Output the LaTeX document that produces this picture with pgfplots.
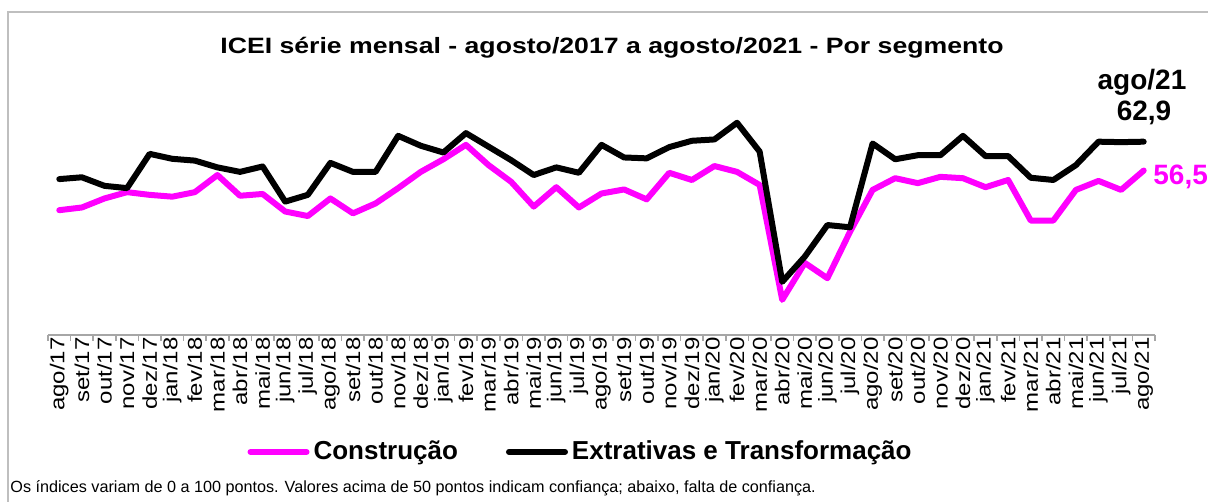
\documentclass[border=0pt]{standalone}
\usepackage{pgfplots}
\pgfplotsset{compat=1.18}
\usepackage{pgfplotstable}
\usepackage{fontspec}
\setmainfont{Liberation Sans}
\newfontfamily\widefont[FakeStretch=1.2]{Liberation Sans}
\definecolor{pinkline}{RGB}{255,0,255}
\definecolor{axgray}{RGB}{166,166,166}
\definecolor{bordergray}{RGB}{191,191,191}

\pgfplotstableread{
x con ext
0 47.7 54.6
1 48.3 55.0
2 50.3 53.1
3 51.7 52.6
4 51.1 60.2
5 50.7 59.1
6 51.7 58.7
7 55.5 57.2
8 50.9 56.2
9 51.3 57.4
10 47.4 49.6
11 46.4 51.1
12 50.3 58.2
13 47.0 56.2
14 49.2 56.2
15 52.6 64.2
16 56.2 62.0
17 59.0 60.5
18 62.2 64.8
19 57.7 61.8
20 54.0 58.8
21 48.5 55.5
22 52.8 57.2
23 48.3 56.0
24 51.4 62.2
25 52.3 59.4
26 50.1 59.2
27 56.0 61.7
28 54.4 63.1
29 57.5 63.4
30 56.2 67.1
31 53.3 60.7
32 27.8 31.8
33 36.0 37.4
34 32.6 44.4
35 42.9 43.9
36 52.2 62.5
37 54.8 59.0
38 53.7 59.9
39 55.1 59.9
40 54.8 64.2
41 52.8 59.7
42 54.4 59.7
43 45.4 54.9
44 45.4 54.4
45 52.2 57.7
46 54.2 62.9
47 52.2 62.8
48 56.5 62.9
}\datatable

\begin{document}
\begin{tikzpicture}[x=1pt,y=1pt]
\useasboundingbox (0,0) rectangle (604,251);
\draw[bordergray, line width=0.6pt] (4,-5) rectangle (612,245);
\node[font=\widefont\bfseries\fontsize{11.1}{13}\selectfont] at (306,227) {ICEI série mensal - agosto/2017 a agosto/2021 - Por segmento};
\begin{axis}[
  at={(24pt,83.5pt)}, anchor=south west, scale only axis,
  width=553.5pt, height=112.65pt,
  xmin=-0.5, xmax=48.5, ymin=20, ymax=70,
  axis x line*=bottom, axis y line=none,
  ytick=\empty,
  xtick={0,...,48},
  xticklabels={ago/17,set/17,out/17,nov/17,dez/17,jan/18,fev/18,mar/18,abr/18,mai/18,jun/18,jul/18,ago/18,set/18,out/18,nov/18,dez/18,jan/19,fev/19,mar/19,abr/19,mai/19,jun/19,jul/19,ago/19,set/19,out/19,nov/19,dez/19,jan/20,fev/20,mar/20,abr/20,mai/20,jun/20,jul/20,ago/20,set/20,out/20,nov/20,dez/20,jan/21,fev/21,mar/21,abr/21,mai/21,jun/21,jul/21,ago/21},
  major tick length=0pt,
  minor xtick={-0.5,0.5,...,48.5},
  minor tick length=3pt,
  tick align=outside,
  x axis line style={axgray, line width=0.8pt},
  minor tick style={axgray, line width=0.8pt},
  xticklabel style={rotate=90, anchor=east, inner sep=1pt, font=\widefont\fontsize{10}{11}\selectfont},
  legend columns=2,
  legend style={at={(0.482,-0.519)}, anchor=center, draw=none, fill=none,
    font=\bfseries\fontsize{13}{15}\selectfont,
    /tikz/every even column/.append style={column sep=22pt},
    inner sep=0pt},
  legend image code/.code={\draw[#1] (0pt,0pt) -- (28pt,0pt);},
  clip=false,
]
\addplot[pinkline, line width=3pt, line join=round, line cap=round] table[x=x,y=con]{\datatable};
\addlegendentry{Construção}
\addplot[black, line width=3pt, line join=round, line cap=round] table[x=x,y=ext]{\datatable};
\addlegendentry{Extrativas e Transformação}
\end{axis}
\node[anchor=base, font=\bfseries\fontsize{14}{16}\selectfont] at (571,206) {ago/21};
\node[anchor=base, font=\bfseries\fontsize{14}{16}\selectfont] at (572,190.5) {62,9};
\node[anchor=base west, inner sep=0pt, text=pinkline, font=\bfseries\fontsize{14}{16}\selectfont] at (576.5,158.5) {56,5};
\node[anchor=base west, inner sep=0pt, font=\fontsize{8.1}{9}\selectfont] at (5,4.5) {Os índices variam de 0 a 100 pontos. Valores acima de 50 pontos indicam confiança; abaixo, falta de confiança.};
\end{tikzpicture}
\end{document}
